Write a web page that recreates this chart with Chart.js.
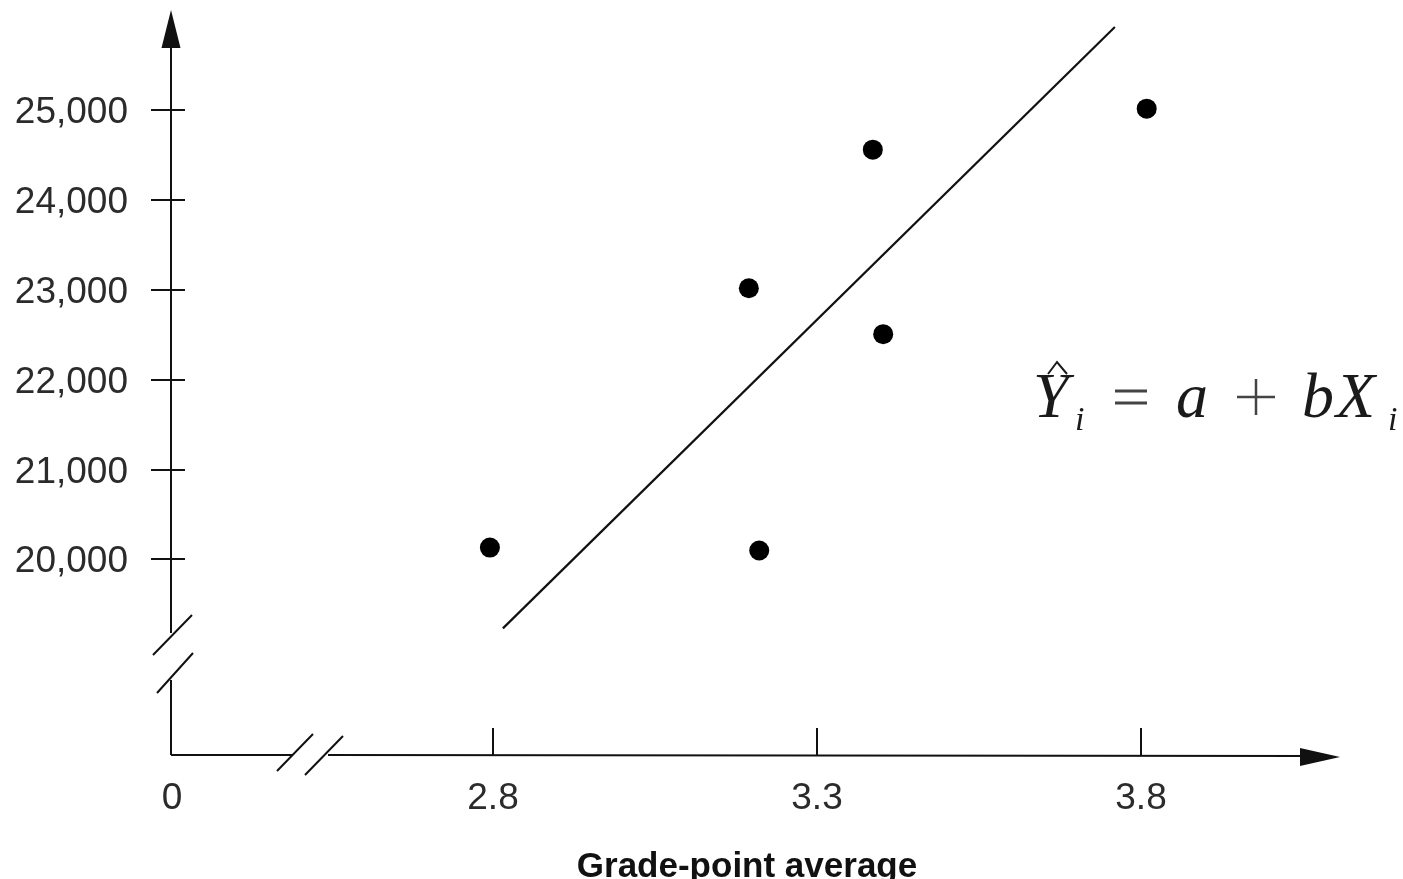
<!DOCTYPE html>
<html>
<head>
<meta charset="utf-8">
<script src="https://cdn.jsdelivr.net/npm/chart.js@4/dist/chart.umd.min.js"></script>
<style>
  html, body { margin: 0; padding: 0; background: #ffffff; }
  #wrap { width: 1403px; height: 879px; position: relative; }
</style>
</head>
<body>
<div id="wrap"><canvas id="c"></canvas></div>
<script>
// ---- data ----
const gpa    = [2.796, 3.195, 3.211, 3.386, 3.402, 3.808];
const salary = [20132, 23020, 20099, 24564, 22509, 25020];
const lineGpa    = [2.816, 3.759];
const lineSalary = [19232, 25930];
const yTickValues = [20000, 21000, 22000, 23000, 24000, 25000];
const yTickLabels = ["20,000", "21,000", "22,000", "23,000", "24,000", "25,000"];
const xTickValues = [2.8, 3.3, 3.8];
const xTickLabels = ["2.8", "3.3", "3.8"];
const originLabel = "0";
const xTitle = "Grade-point average";

const points = gpa.map((g, i) => ({ x: g, y: salary[i] }));
const fitLine = lineGpa.map((g, i) => ({ x: g, y: lineSalary[i] }));

const axesPlugin = {
  id: 'handAxes',
  afterDraw(chart) {
    const ctx = chart.ctx;
    const xs = chart.scales.x, ys = chart.scales.y;
    const ca = chart.chartArea;
    const ox = ca.left, oy = ca.bottom;
    ctx.save();
    ctx.strokeStyle = '#111';
    ctx.fillStyle = '#111';
    ctx.lineWidth = 2;
    ctx.lineCap = 'butt';

    // Y axis (with break)
    ctx.beginPath();
    ctx.moveTo(ox, ca.top + 30);
    ctx.lineTo(ox, oy - 122);
    ctx.moveTo(ox, oy - 75);
    ctx.lineTo(ox, oy);
    ctx.stroke();
    // y arrow
    ctx.beginPath();
    ctx.moveTo(ox, ca.top);
    ctx.lineTo(ox - 9.5, ca.top + 38);
    ctx.lineTo(ox + 9.5, ca.top + 38);
    ctx.closePath();
    ctx.fill();
    // y break slashes
    ctx.lineWidth = 2;
    ctx.beginPath();
    ctx.moveTo(ox - 18, oy - 100); ctx.lineTo(ox + 21, oy - 140);
    ctx.moveTo(ox - 14, oy - 62);  ctx.lineTo(ox + 22, oy - 102);
    ctx.stroke();

    // X axis (with break)
    ctx.beginPath();
    ctx.moveTo(ox, oy);
    ctx.lineTo(292, oy);
    ctx.moveTo(328, oy);
    ctx.lineTo(ca.right - 30, oy + 1);
    ctx.stroke();
    // x arrow
    ctx.beginPath();
    ctx.moveTo(ca.right, oy + 2);
    ctx.lineTo(ca.right - 40, oy + 2 - 9);
    ctx.lineTo(ca.right - 40, oy + 2 + 9);
    ctx.closePath();
    ctx.fill();
    // x break slashes
    ctx.beginPath();
    ctx.moveTo(277, oy + 16); ctx.lineTo(313, oy - 21);
    ctx.moveTo(305, oy + 20); ctx.lineTo(343, oy - 19);
    ctx.stroke();

    // Y ticks & labels
    ctx.font = '37px "Liberation Sans", "DejaVu Sans", sans-serif';
    ctx.fillStyle = '#2b2b2b';
    ctx.textAlign = 'right';
    ctx.textBaseline = 'alphabetic';
    yTickValues.forEach((v, i) => {
      const py = Math.round(ys.getPixelForValue(v));
      ctx.strokeStyle = '#111';
      ctx.beginPath();
      ctx.moveTo(ox - 20, py);
      ctx.lineTo(ox + 14, py);
      ctx.stroke();
      ctx.fillText(yTickLabels[i], 128, py + 13);
    });

    // X ticks & labels
    ctx.textAlign = 'center';
    xTickValues.forEach((v, i) => {
      const px = Math.round(xs.getPixelForValue(v));
      ctx.beginPath();
      ctx.moveTo(px, oy - 27);
      ctx.lineTo(px, oy);
      ctx.stroke();
      ctx.fillText(xTickLabels[i], px, 809);
    });
    ctx.fillText(originLabel, ox + 1, 809);

    // X title
    ctx.fillStyle = '#111';
    ctx.font = 'bold 35px "Liberation Sans", "DejaVu Sans", sans-serif';
    ctx.fillText(xTitle, 747, 877);

    // Equation  Ŷ_i = a + bX_i
    ctx.fillStyle = '#1a1a1a';
    ctx.strokeStyle = '#1a1a1a';
    ctx.textAlign = 'left';
    ctx.font = 'italic 64px "Liberation Serif", "DejaVu Serif", serif';
    ctx.fillText('Y', 1033, 417);
    ctx.fillText('a', 1176, 417);
    ctx.fillText('b', 1302, 417);
    ctx.fillText('X', 1336, 417);
    ctx.font = 'italic 34px "Liberation Serif", "DejaVu Serif", serif';
    ctx.fillText('i', 1075, 430);
    ctx.fillText('i', 1388, 430);
    // hat
    ctx.lineWidth = 2;
    ctx.beginPath();
    ctx.moveTo(1048, 374); ctx.lineTo(1057, 362); ctx.lineTo(1067, 374);
    ctx.stroke();
    // equals
    ctx.lineWidth = 3;
    ctx.strokeStyle = '#444';
    ctx.beginPath();
    ctx.moveTo(1115, 391); ctx.lineTo(1147, 391);
    ctx.moveTo(1115, 403); ctx.lineTo(1147, 403);
    ctx.stroke();
    // plus
    ctx.lineWidth = 2.5;
    ctx.beginPath();
    ctx.moveTo(1237, 397); ctx.lineTo(1275, 397);
    ctx.moveTo(1256, 379); ctx.lineTo(1256, 415);
    ctx.stroke();

    ctx.restore();
  }
};

new Chart(document.getElementById('c'), {
  data: {
    datasets: [
      {
        type: 'scatter',
        data: points,
        backgroundColor: '#000',
        borderColor: '#000',
        pointRadius: 10,
        pointHoverRadius: 10,
        borderWidth: 0
      },
      {
        type: 'line',
        data: fitLine,
        borderColor: '#111',
        borderWidth: 2.2,
        pointRadius: 0,
        fill: false,
        tension: 0
      }
    ]
  },
  options: {
    responsive: true,
    maintainAspectRatio: false,
    animation: false,
    events: [],
    layout: { padding: { left: 171, right: 63, top: 8, bottom: 124 } },
    plugins: { legend: { display: false }, tooltip: { enabled: false } },
    scales: {
      x: { type: 'linear', min: 2.30462, max: 4.10586, display: false },
      y: { type: 'linear', min: 17821.9, max: 26119.1, display: false }
    }
  },
  plugins: [axesPlugin]
});
</script>
</body>
</html>
